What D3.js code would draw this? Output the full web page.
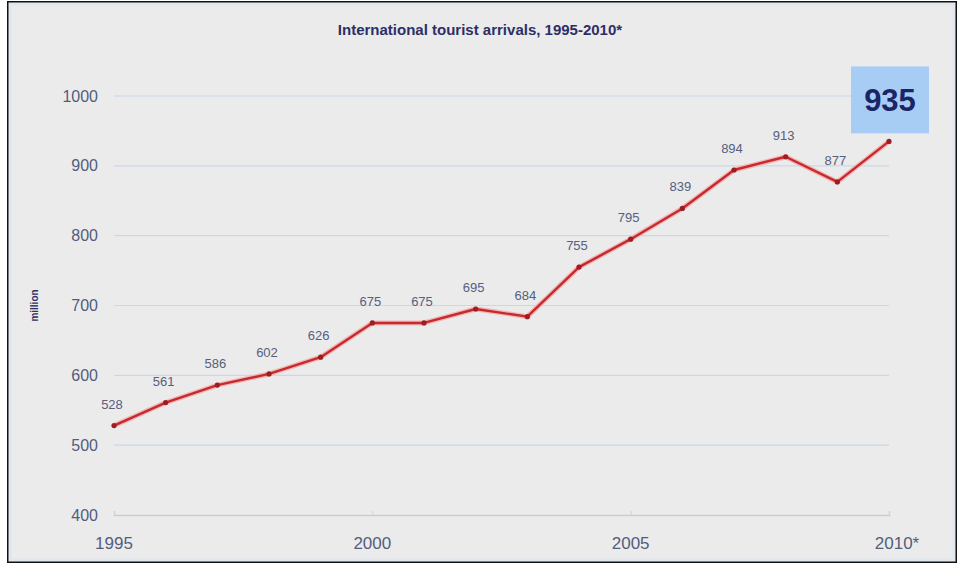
<!DOCTYPE html>
<html>
<head>
<meta charset="utf-8">
<script src="https://cdn.jsdelivr.net/npm/d3@7"></script>
<style>
	html, body { margin: 0; padding: 0; background: #ffffff; }
	svg { display: block; font-family: "Liberation Sans", Arial, sans-serif; }
</style>
</head>
<body>
<svg id="chart"></svg>
<script>
// data
const years = [1995, 1996, 1997, 1998, 1999, 2000, 2001, 2002, 2003, 2004, 2005, 2006, 2007, 2008, 2009, 2010];
const arrivals = [528, 561, 586, 602, 626, 675, 675, 695, 684, 755, 795, 839, 894, 913, 877, 935];
const yTicks = [400, 500, 600, 700, 800, 900, 1000];
const xTicks = [1995, 2000, 2005, 2010];
const xTickLabels = ["1995", "2000", "2005", "2010*"];

const width = 959;
const height = 567;

const svg = d3.select("#chart").attr("width", width).attr("height", height);

// background panel with frame
svg.append("rect")
	.attr("x", 8).attr("y", 2)
	.attr("width", 948).attr("height", 560)
	.attr("fill", "#ebebeb")
	.attr("stroke", "#111")
	.attr("stroke-width", 2);

svg.append("rect")
	.attr("x", 10).attr("y", 4)
	.attr("width", 944).attr("height", 556)
	.attr("fill", "none")
	.attr("stroke", "#dfe7ef")
	.attr("stroke-width", 3);

const x = d3.scaleLinear().domain([1995, 2010]).range([114, 889]);
const y = d3.scaleLinear().domain([400, 1000]).range([515, 96]);

// title
svg.append("text")
	.attr("x", 480).attr("y", 35)
	.attr("text-anchor", "middle")
	.attr("font-size", 15)
	.attr("font-weight", "bold")
	.attr("fill", "#2b2f66")
	.text("International tourist arrivals, 1995-2010*");

// horizontal grid
svg.append("g")
	.selectAll("line")
	.data(yTicks.filter(d => d > 400))
	.join("line")
	.attr("x1", x(1995)).attr("x2", x(2010))
	.attr("y1", d => y(d)).attr("y2", d => y(d))
	.attr("stroke", "#cbd8e5")
	.attr("stroke-width", 1.2);

// y axis labels
const yAxis = d3.axisLeft(y).tickValues(yTicks).tickSize(0).tickPadding(16).tickFormat(d3.format("d"));
const yg = svg.append("g").attr("transform", `translate(${x(1995)},0)`).call(yAxis);
yg.select(".domain").remove();
yg.selectAll("text")
	.attr("font-size", 16)
	.attr("fill", "#535d7c")
	.attr("font-family", "Liberation Sans, Arial, sans-serif");

// x axis along the 400 line
const xAxis = d3.axisTop(x).tickValues(xTicks).tickSize(4).tickFormat(() => "");
const xg = svg.append("g").attr("transform", `translate(0,${y(400)})`).call(xAxis);
xg.select(".domain").attr("stroke", "#cdcdcd").attr("stroke-width", 1.5);
xg.selectAll(".tick line").attr("stroke", "#d4d4d4");

svg.append("g")
	.selectAll("text")
	.data(xTicks)
	.join("text")
	.attr("x", d => x(d) + (d === 2010 ? 8 : 0))
	.attr("y", 549)
	.attr("text-anchor", "middle")
	.attr("font-size", 17)
	.attr("fill", "#535d7c")
	.text((d, i) => xTickLabels[i]);

// y axis title
svg.append("text")
	.attr("transform", `translate(38,${y(700)}) rotate(-90)`)
	.attr("text-anchor", "middle")
	.attr("font-size", 10)
	.attr("font-weight", "bold")
	.attr("fill", "#2b2f66")
	.text("million");

// line
const line = d3.line().x((d, i) => x(years[i])).y(d => y(d));
svg.append("path")
	.datum(arrivals)
	.attr("d", line)
	.attr("fill", "none")
	.attr("stroke", "#f3b6b6")
	.attr("stroke-width", 5)
	.attr("stroke-linejoin", "round");
svg.append("path")
	.datum(arrivals)
	.attr("d", line)
	.attr("fill", "none")
	.attr("stroke", "#c62a2e")
	.attr("stroke-width", 2.4)
	.attr("stroke-linejoin", "round");

svg.append("g")
	.selectAll("circle")
	.data(arrivals)
	.join("circle")
	.attr("cx", (d, i) => x(years[i]))
	.attr("cy", d => y(d))
	.attr("r", 2.6)
	.attr("fill", "#9b1f22");

// value labels (last one is the highlighted box)
svg.append("g")
	.selectAll("text")
	.data(arrivals.slice(0, -1))
	.join("text")
	.attr("x", (d, i) => x(years[i]) - 2)
	.attr("y", d => y(d) - 17)
	.attr("text-anchor", "middle")
	.attr("font-size", 13)
	.attr("fill", "#56607e")
	.text(d => d);

const last = arrivals[arrivals.length - 1];
const lastX = x(years[years.length - 1]);
svg.append("rect")
	.attr("x", lastX - 38).attr("y", y(last) - 75)
	.attr("width", 78).attr("height", 67)
	.attr("fill", "#a7cdf4");
svg.append("text")
	.attr("x", lastX + 1).attr("y", y(last) - 30)
	.attr("text-anchor", "middle")
	.attr("font-size", 31)
	.attr("font-weight", "bold")
	.attr("fill", "#1b2466")
	.text(last);
</script>
</body>
</html>
